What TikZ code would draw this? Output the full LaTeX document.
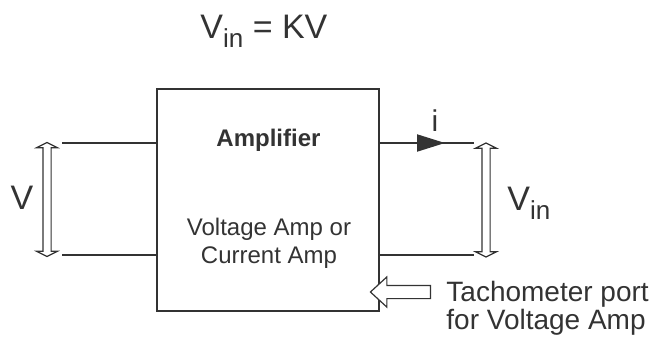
\documentclass[tikz,border=0pt]{standalone}
\usepackage{fontspec}
\setmainfont{Liberation Sans}
\usetikzlibrary{arrows.meta,shapes.arrows}
\definecolor{ink}{HTML}{333333}
\newcommand{\lowsub}[1]{\raisebox{-0.55ex}{\fontsize{13}{13}\selectfont #1}}

\begin{document}
\begin{tikzpicture}[x=0.5pt,y=-0.5pt,
    wire/.style={ink, line width=1pt},
    label/.style={text=ink, inner sep=0pt},
    vdarrow/.style={double arrow, draw=ink, fill=white, line width=0.6pt,
        shape border rotate=90, inner sep=1.75pt, double arrow head extend=3.25pt,
        double arrow tip angle=127, minimum height=57pt}]
    \useasboundingbox (0,0) rectangle (652,338);
    % Relation
    \node[label, anchor=base west, font=\fontsize{17}{17}\selectfont] (rel) at (200,38) {V\lowsub{in} = KV};
    % Amplifier box
    \node[draw=ink, line width=0.6pt, minimum width=111pt, minimum height=111pt] (amp) at (268,200) {};
    \node[label, font=\bfseries\fontsize{12}{12}\selectfont] (title) at (268.5,140) {Amplifier};
    \node[label, align=center, font=\fontsize{12}{14}\selectfont] (kind) at (269,243) {Voltage Amp or\\Current Amp};
    % Wires
    \coordinate (inT) at (62,143);
    \coordinate (inB) at (62,255);
    \coordinate (outT) at (474,143);
    \coordinate (outB) at (474,255);
    \coordinate (iTip) at (445,143);
    \draw[wire] (inT) -- (inT -| amp.west);
    \draw[wire] (inB) -- (inB -| amp.west);
    \draw[wire] (amp.east |- outT) -- (outT);
    \draw[wire] (amp.east |- outB) -- (outB);
    \draw[wire, -{Triangle[length=14pt,width=8.5pt]}] (amp.east |- outT) -- (iTip);
    \node[label, font=\fontsize{15}{15}\selectfont] (cur) at (435,121) {i};
    % Voltages
    \node[vdarrow] (vin) at (47,199.5) {};
    \node[vdarrow] (vout) at (486,200) {};
    \node[label, font=\fontsize{17}{17}\selectfont] (vinlab) at (22,198) {V};
    \node[label, anchor=base west, font=\fontsize{17}{17}\selectfont] (voutlab) at (507,210) {V\lowsub{in}};
    % Tachometer port
    \node[single arrow, draw=ink, fill=white, line width=0.6pt, shape border rotate=180,
        inner sep=3pt, single arrow head extend=4.25pt, single arrow tip angle=85,
        minimum height=30pt] (tacho) at (404,292) {};
    \node[label, align=left, anchor=north west, font=\fontsize{14}{13}\selectfont] (port) at (446,281) {Tachometer port\\for Voltage Amp};
\end{tikzpicture}
\end{document}
